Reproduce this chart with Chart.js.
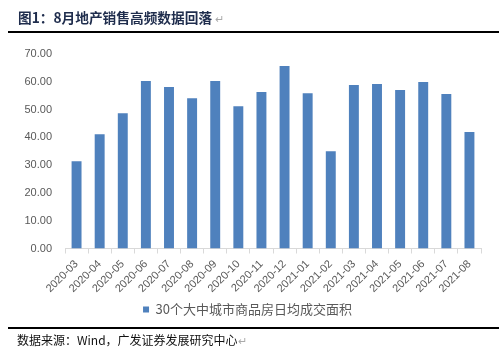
<!DOCTYPE html>
<html>
<head>
<meta charset="utf-8">
<script src="https://cdn.jsdelivr.net/npm/chart.js@4/dist/chart.umd.min.js"></script>
<style>
  html, body { margin: 0; padding: 0; background: #fff; }
  #wrap { position: relative; width: 499px; height: 353px; overflow: hidden; }
  #chartBox { position: absolute; left: 0; top: 0; width: 499px; height: 353px; }
  .title { position: absolute; left: 18px; top: 7px; font: bold 13.7px 'Noto Sans CJK SC', sans-serif; color: #1F2D4D; white-space: nowrap; }
  .src { position: absolute; left: 17px; top: 331px; font: 12px 'Noto Sans CJK SC', sans-serif; color: #111; white-space: nowrap; }
  .rule { position: absolute; left: 8px; right: 0; height: 2px; background: #000; }
  .pm { color: #aaa; font-weight: normal; font-size: 11px; }
</style>
</head>
<body>
<div id="wrap">
  <div id="chartBox"><canvas id="areaChart"></canvas></div>
  <div class="title">图1：8月地产销售高频数据回落 <span class="pm">↵</span></div>
  <div class="rule" style="top:31px"></div>
  <div class="rule" style="top:327px"></div>
  <div class="src">数据来源：Wind，广发证券发展研究中心<span class="pm">↵</span></div>
</div>
<script>
const categories = ['2020-03','2020-04','2020-05','2020-06','2020-07','2020-08','2020-09','2020-10','2020-11','2020-12',
                    '2021-01','2021-02','2021-03','2021-04','2021-05','2021-06','2021-07','2021-08'];
const areaValues = [31.4, 41.1, 48.7, 60.3, 58.1, 54.1, 60.3, 51.2, 56.3, 65.7,
                    55.9, 35.0, 58.8, 59.2, 57.0, 59.9, 55.6, 41.9];
const seriesName = '30个大中城市商品房日均成交面积';
const yMin = 0, yMax = 70, yStep = 10;

Chart.defaults.font.family = "'Liberation Sans', Arial, sans-serif";
Chart.defaults.color = '#595959';

new Chart(document.getElementById('areaChart'), {
  type: 'bar',
  data: {
    labels: categories,
    datasets: [{ label: seriesName, data: areaValues,
      backgroundColor: '#4F81BD', borderWidth: 0,
      barPercentage: 0.43, categoryPercentage: 1 }]
  },
  options: { responsive: true, maintainAspectRatio: false, animation: false,
    layout: { padding: { top: 54, left: 14, right: 18, bottom: 27 } },
    plugins: {
      legend: { position: 'bottom',
        labels: { boxWidth: 6, boxHeight: 6, padding: 8, color: '#595959',
          font: { size: 13, family: "'Noto Sans CJK SC', sans-serif" } } },
      tooltip: { enabled: false }
    },
    scales: {
      x: { grid: { display: true, drawOnChartArea: false, drawTicks: true, tickLength: 5, color: '#d9d9d9', offset: true },
        border: { display: true, color: '#d9d9d9' },
        ticks: { autoSkip: false, minRotation: 45, maxRotation: 45, padding: 4, font: { size: 11 } },
        afterFit: s => { s.height = 46.5; } },
      y: { min: yMin, max: yMax, grid: { display: false, drawTicks: false }, border: { display: false },
        ticks: { stepSize: yStep, padding: 13, font: { size: 11 }, callback: v => v.toFixed(2) },
        afterFit: s => { s.width = 51; } }
    }
  }
});
</script>
</body>
</html>
